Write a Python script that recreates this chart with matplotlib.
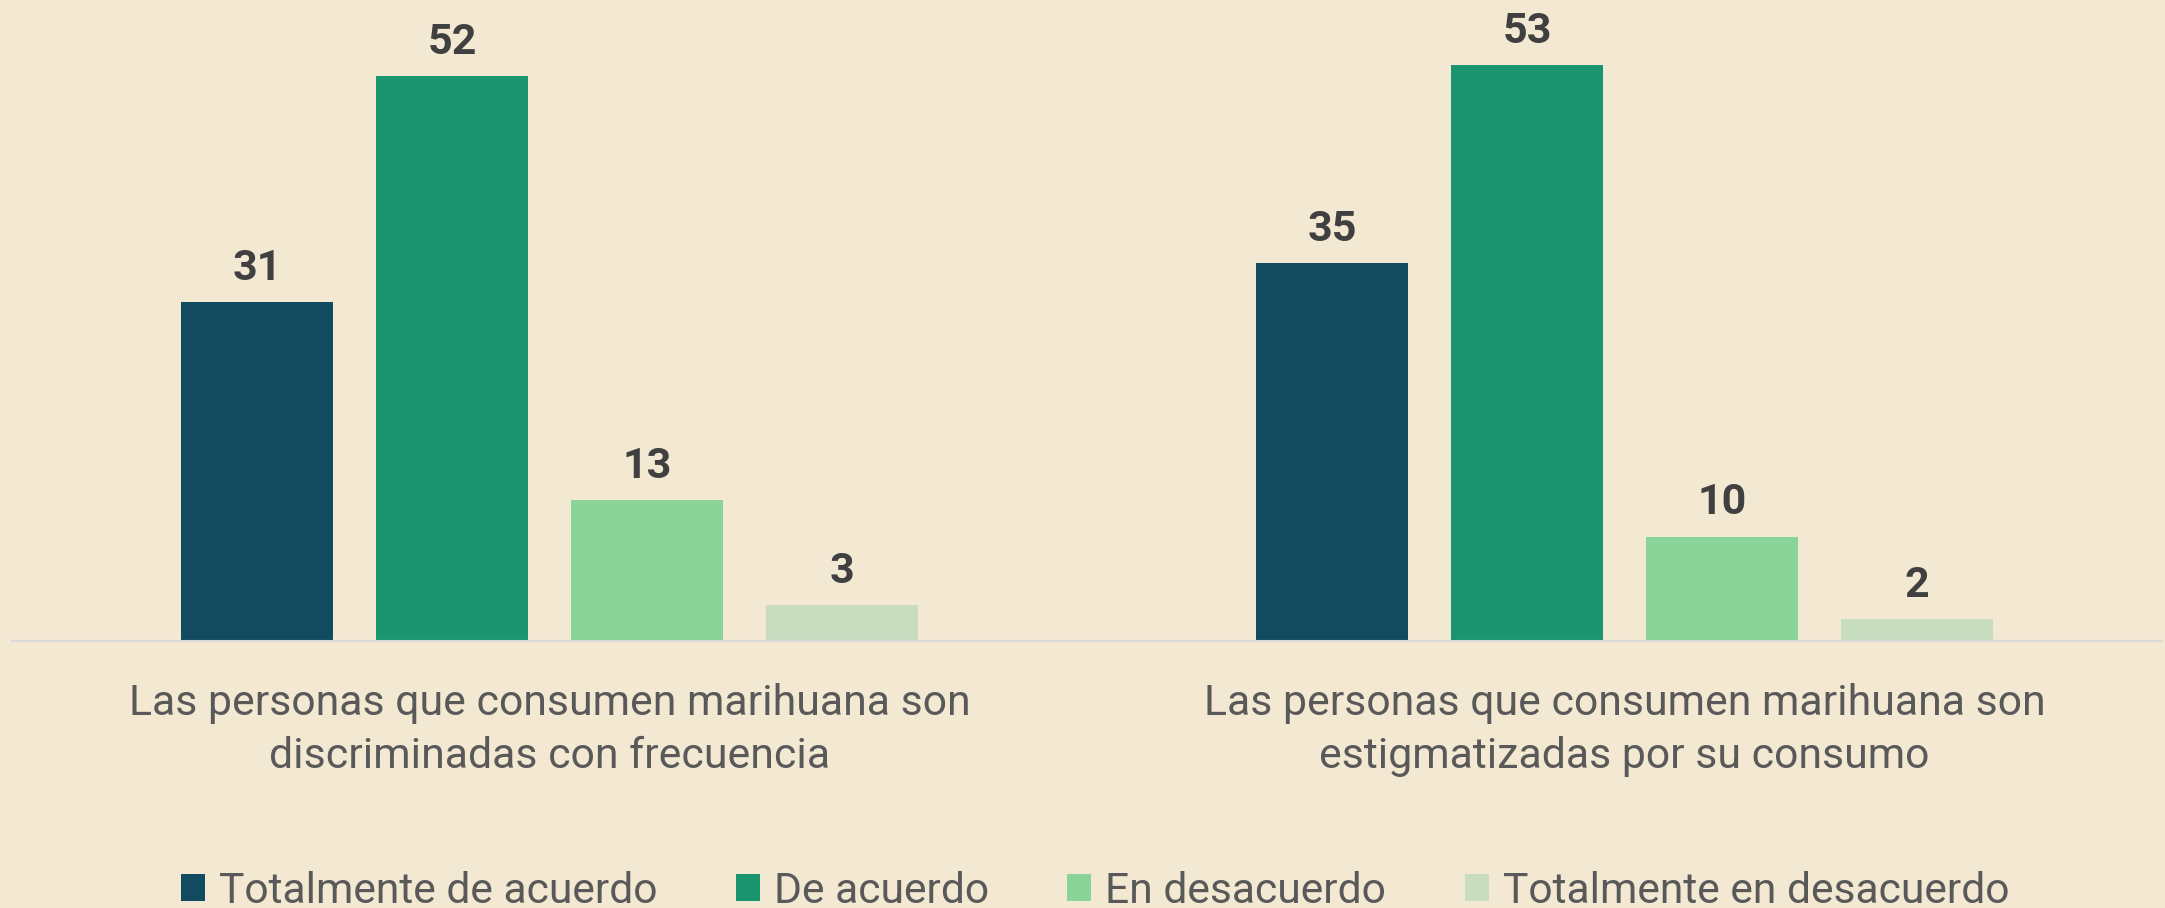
import numpy as np
import matplotlib
matplotlib.use('Agg')
from matplotlib import pyplot as plt

plt.rcParams['font.family'] = ['Roboto', 'DejaVu Sans']

categorias = ['Las personas que consumen marihuana son\ndiscriminadas con frecuencia',
              'Las personas que consumen marihuana son\nestigmatizadas por su consumo']
series = ['Totalmente de acuerdo', 'De acuerdo', 'En desacuerdo', 'Totalmente en desacuerdo']
totalmente_acuerdo = [31.2, 34.8]
de_acuerdo = [52.0, 53.0]
en_desacuerdo = [13.0, 9.6]
totalmente_desacuerdo = [3.3, 2.0]

valores = [totalmente_acuerdo, de_acuerdo, en_desacuerdo, totalmente_desacuerdo]
colores = ['#124B5F', '#1B9570', '#8AD499', '#C8DCC0']
fondo = '#F3E8D2'

fig = plt.figure(figsize=(21.65, 9.08), dpi=100)
fig.patch.set_facecolor(fondo)
ax = fig.add_axes([12/2165, (908-641)/908, 2150/2165, 641/908])
ax.set_facecolor(fondo)

x = np.arange(len(categorias))
ancho = 0.1423
paso = 0.1814
for i, (serie, vals) in enumerate(zip(series, valores)):
    pos = x + (i - 1.5) * paso
    barras = ax.bar(pos, vals, width=ancho, color=colores[i], label=serie)
    for b, v in zip(barras, vals):
        ax.annotate(f'{v:.0f}', (b.get_x() + b.get_width()/2, v),
                    xytext=(0, 16), textcoords='offset points',
                    ha='center', va='baseline', fontsize=31,
                    fontweight='bold', color='#404040')

ax.set_xlim(-0.5, 1.5)
ax.set_ylim(0, 59)
ax.set_yticks([])
ax.set_xticks(x)
ax.set_xticklabels(categorias, fontsize=30.8, color='#595959', linespacing=1.4)
ax.tick_params(axis='x', length=0, pad=30)
for s in ['top', 'left', 'right']:
    ax.spines[s].set_visible(False)
ax.spines['bottom'].set_color('#D9D9D9')
ax.spines['bottom'].set_linewidth(1.5)

fig.legend(loc='lower center', bbox_to_anchor=(0.5058, -0.004), ncol=4,
           frameon=False, fontsize=30.7, labelcolor='#595959',
           handlelength=0.56, handleheight=0.6, handletextpad=0.33,
           columnspacing=1.84, borderpad=0, borderaxespad=0)

fig.savefig('out.png', dpi=100, facecolor=fondo)
